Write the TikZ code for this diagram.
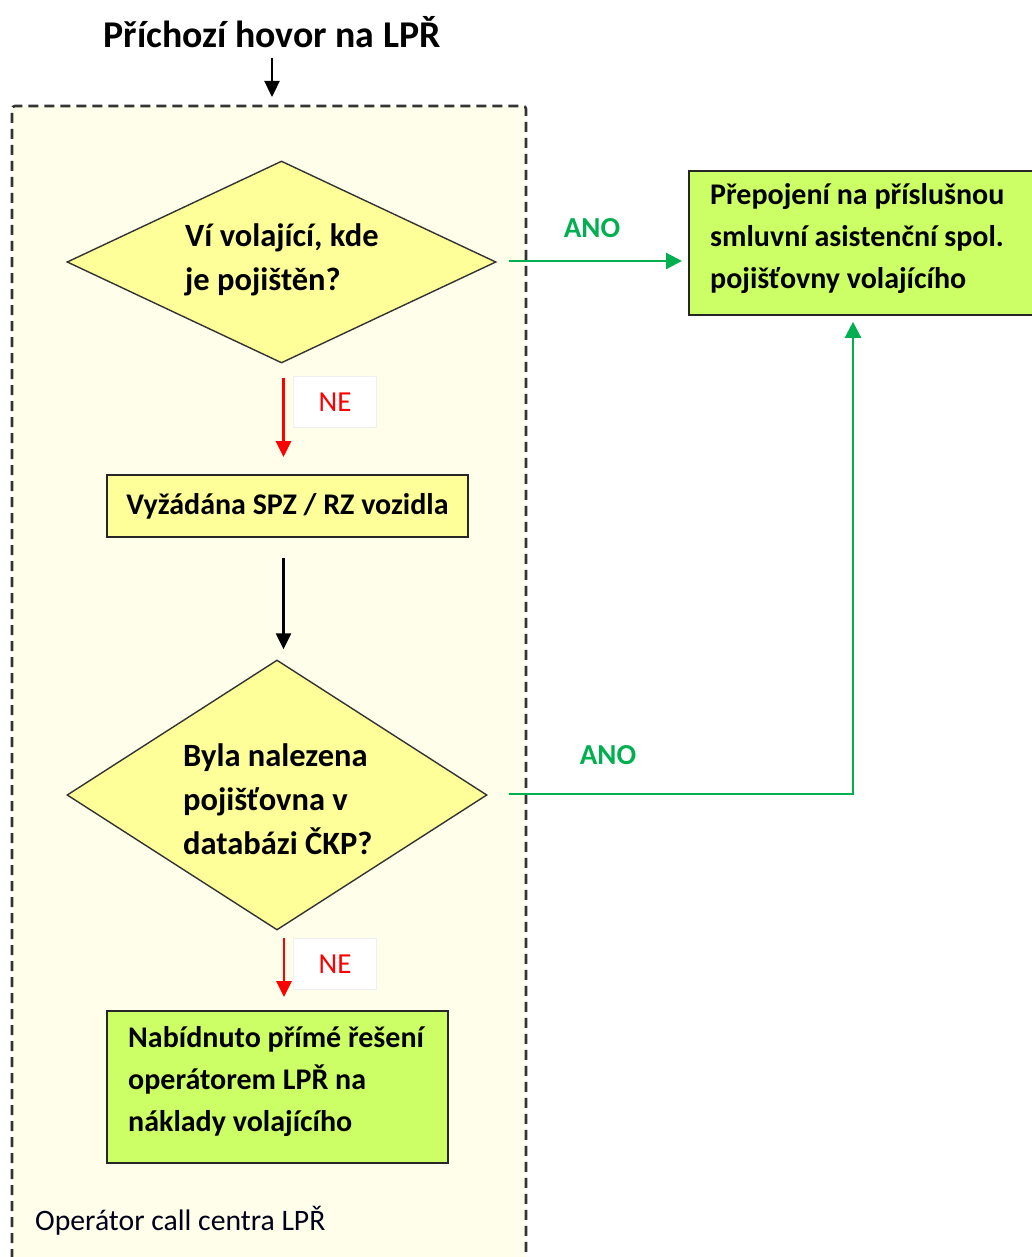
\documentclass[tikz,border=0pt]{standalone}
\usepackage{fontspec}
\setmainfont{Carlito}
\usetikzlibrary{shapes.geometric,arrows.meta,calc}
\definecolor{contfill}{HTML}{FEFEEA}
\definecolor{yel}{HTML}{FFFF99}
\definecolor{lgreen}{HTML}{CCFF66}
\definecolor{ogreen}{HTML}{00B050}
\definecolor{ored}{HTML}{FF0000}
\begin{document}
\begin{tikzpicture}[x=1pt,y=-1pt,
  dia/.style={diamond, draw=black!80, line width=1.4pt, fill=yel, inner sep=0pt},
  ybox/.style={rectangle, draw=black!85, line width=1.8pt, fill=yel, inner sep=0pt},
  gbox/.style={rectangle, draw=black!85, line width=1.8pt, fill=lgreen, inner sep=0pt},
  btext/.style={font=\bfseries\fontsize{30}{42}\selectfont, align=left, inner sep=0pt, anchor=west},
  dtext/.style={font=\bfseries\fontsize{32.5}{44}\selectfont, align=left, inner sep=0pt, anchor=west},
  nebox/.style={rectangle, draw=black!6, fill=white, minimum width=83pt, minimum height=51pt, inner sep=0pt, text=ored, font=\fontsize{29}{30}\selectfont},
  anolabel/.style={text=ogreen, font=\bfseries\fontsize{29}{30}\selectfont, inner sep=0pt},
  blkarrow/.style={draw=black, line width=2.4pt, -{Triangle[length=16pt,width=15pt]}},
  redarrow/.style={draw=ored, line width=2.4pt, -{Triangle[length=16pt,width=15pt]}},
  grnarrow/.style={draw=ogreen, line width=2.2pt, -{Triangle[length=16pt,width=16pt]}},
  contline/.style={draw=black!80, line width=2.6pt, dash pattern=on 10pt off 6pt}
]
\useasboundingbox (0,0) rectangle (1032,1257);
\fill[white] (0,0) rectangle (1032,1257);

% container
\fill[contfill, rounded corners=3pt] (12,1275) -- (12,106) -- (526,106) -- (526,1275) -- cycle;
\draw[contline, rounded corners=3pt] (12,1275) -- (12,106) -- (526,106) -- (526,1275);
\node[font=\fontsize{29.7}{32}\selectfont, text=black!90!blue, anchor=west, inner sep=0pt] (oplabel) at (35,1221) {Operátor call centra LPŘ};

% title
\node[font=\bfseries\fontsize{37.8}{40}\selectfont, inner sep=0pt] (title) at (272,32) {Příchozí hovor na LPŘ};
\coordinate (ctop) at (272,97);

% decisions and boxes
\node[dia, minimum width=429pt, minimum height=202pt] (q1) at (281.5,262) {};
\node[dtext] (q1t) at (185,260) {Ví volající, kde\\je pojištěn?};

\node[ybox, minimum width=361pt, minimum height=62pt, font=\bfseries\fontsize{30}{36}\selectfont] (b1) at (287.5,506) {Vyžádána SPZ / RZ vozidla};

\node[dia, minimum width=420pt, minimum height=270pt] (q2) at (277,795) {};
\node[dtext] (q2t) at (183,799) {Byla nalezena\\pojišťovna v\\databázi ČKP?};

\node[gbox, minimum width=341pt, minimum height=152pt] (b2) at (277.5,1087) {};
\node[btext] (b2t) at (128,1081) {Nabídnuto přímé řešení\\operátorem LPŘ na\\náklady volajícího};

\node[gbox, minimum width=360pt, minimum height=144pt, anchor=north west] (rb) at (688,170) {};
\node[btext] (rbt) at (710,239) {Přepojení na příslušnou\\smluvní asistenční spol.\\pojišťovny volajícího};

% labels
\node[nebox] (ne1) at (335,402) {NE};
\node[nebox] (ne2) at (335,964) {NE};
\node[anolabel] (ano1) at (592,228) {ANO};
\node[anolabel] (ano2) at (608,755) {ANO};

% connectors
\draw[blkarrow, shorten <=10pt] (title.south) -- (title.south |- ctop);
\draw[redarrow] ([xshift=2pt,yshift=-14pt]q1.south) -- ([xshift=2pt,yshift=17pt]q1.south |- b1.north);
\draw[blkarrow] ([xshift=2pt,yshift=-20pt]q1.south |- b1.south) -- ([xshift=2pt,yshift=10pt]q1.south |- q2.north);
\draw[redarrow] ([xshift=7pt,yshift=-7pt]q2.south) -- ([xshift=7pt,yshift=13pt]q2.south |- b2.north);
\draw[grnarrow] ([xshift=12pt,yshift=1pt]q1.east) -- ([xshift=-6pt,yshift=1pt]rb.west |- q1.east);
\coordinate (turn) at (853,794);
\draw[grnarrow] ([xshift=21pt,yshift=1pt]q2.east) -- (turn) -- ([yshift=-6pt]turn |- rb.south);
\end{tikzpicture}
\end{document}
